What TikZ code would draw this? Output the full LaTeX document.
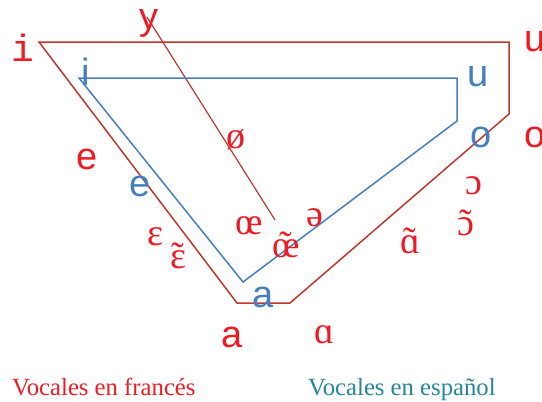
\documentclass[tikz,border=0pt]{standalone}
\usepackage{fontspec}
\setmainfont{Liberation Serif}
\setsansfont{Liberation Sans}
\setmonofont{Liberation Mono}

\definecolor{frline}{RGB}{192,55,48}
\definecolor{frtext}{RGB}{237,28,36}
\definecolor{esline}{RGB}{70,126,190}
\definecolor{estitle}{RGB}{36,134,154}

% vocal nasal: tilde encima
\newcommand{\nasal}[1]{\accent"02DC #1}

\tikzset{
  frsans/.style={text=frtext, inner sep=0pt, font=\fontsize{38}{40}\selectfont\sffamily},
  frmono/.style={text=frtext, inner sep=0pt, font=\fontsize{38}{40}\selectfont\ttfamily},
  frserif/.style={text=frtext, inner sep=0pt, font=\fontsize{38}{40}\selectfont\rmfamily},
  essans/.style={text=esline, inner sep=0pt, font=\fontsize{38}{40}\selectfont\sffamily},
  caption/.style={inner sep=0pt, anchor=base west, font=\fontsize{24.7}{26}\selectfont\rmfamily}
}

\begin{document}
\begin{tikzpicture}[x=1pt,y=-1pt]
\useasboundingbox (0,0) rectangle (542,402);

% trapecio frances
\draw[frline, line width=1.5pt, line join=miter]
(39,42) -- (509,42) -- (509,114) -- (290,303) -- (237,303) -- cycle;
% linea de las redondeadas
\coordinate (ytop) at (147,17);
\coordinate (yend) at (275,220);
\draw[frline, line width=1.2pt] (ytop) -- (yend);

% trapecio espanol
\draw[esline, line width=1.5pt, line join=miter]
(79,78) -- (457,78) -- (457,121) -- (243,282) -- cycle;

% vocales francesas
\node[frmono] (fri) at (23,48) {i};
\node[frsans] (fry) at (149,23) {y};
\node[frsans] (fru) at (535,42) {u};
\node[frsans] (fro) at (535,137) {o};
\node[frsans] (fre) at (87,159) {e};
\node[frserif] (froe) at (236,140) {ø};
\node[frserif] (freps) at (155,237) {ɛ};
\node[frserif] (frepsn) at (178,256) {\nasal{ɛ}};
\node[frserif] (froelig) at (249,226) {œ};
\node[frserif] (froelign) at (286,245) {\nasal{œ}};
\node[frserif] (frschwa) at (315,218) {ə};
\node[frserif] (fralphan) at (410,241) {\nasal{ɑ}};
\node[frserif] (fropenn) at (466,223) {\nasal{ɔ}};
\node[frserif] (fropen) at (474,186) {ɔ};
\node[frsans] (fra) at (232,337) {a};
\node[frserif] (fralpha) at (324,335) {ɑ};

% vocales espanolas
\node[essans] (esi) at (86,72) {i};
\node[essans] (esu) at (478,77) {u};
\node[essans] (eso) at (481,137) {o};
\node[essans] (ese) at (140,186) {e};
\node[essans] (esa) at (263,297) {a};

% leyenda
\node[caption, text=frtext] (frcap) at (12,395) {Vocales en francés};
\node[caption, text=estitle] (escap) at (308,395) {Vocales en español};
\end{tikzpicture}
\end{document}
